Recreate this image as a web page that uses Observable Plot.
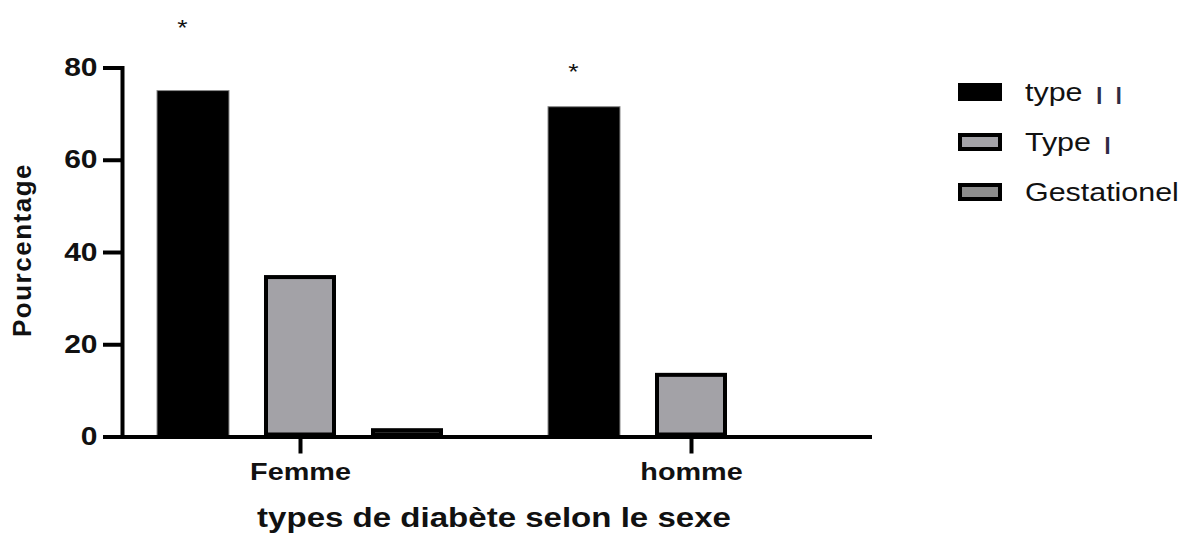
<!DOCTYPE html>
<html>
<head>
<meta charset="utf-8">
<script src="https://cdn.jsdelivr.net/npm/d3@7"></script>
<script src="https://cdn.jsdelivr.net/npm/@observablehq/plot@0.6"></script>
<style>
  html, body { margin: 0; padding: 0; background: #fff; }
  #wrap { position: relative; width: 1188px; height: 536px; overflow: hidden; font-family: "Liberation Sans", Arial, sans-serif; color: #111; }
  #chart { position: absolute; left: 0; top: 0; }
  .ytitle { position: absolute; left: 22px; top: 250px; font-size: 26px; font-weight: bold; letter-spacing: 1.5px; line-height: 26px; white-space: nowrap; transform: translate(-50%, -50%) rotate(-90deg); }
  .xtitle { position: absolute; left: 494px; top: 504px; font-size: 28px; font-weight: bold; line-height: 28px; white-space: nowrap; transform: translateX(-50%) scaleX(1.18); }
  .legend { position: absolute; left: 958px; top: 0; }
  .item { position: absolute; left: 0; display: flex; align-items: center; height: 18px; }
  .sw { width: 44px; height: 18px; box-sizing: border-box; border: 4px solid #000; flex: none; }
  .lab { margin-left: 23px; font-size: 26px; white-space: nowrap; transform: scaleX(1.17); transform-origin: left center; line-height: 26px; }
  .roman { display: inline-block; font-size: 23px; font-weight: bold; color: #2e2a44; margin-left: 12px; letter-spacing: 4px; position: relative; top: 3px; transform: scaleX(0.8); transform-origin: left center; }
</style>
</head>
<body>
<div id="wrap">
  <div id="chart"></div>
  <div class="ytitle">Pourcentage</div>
  <div class="xtitle">types de diabète selon le sexe</div>
  <div class="legend" id="legend"></div>
</div>
<script>
// ---- data ----
const sexes = ["Femme", "homme"];
const types = ["type II", "Type I", "Gestationel"];
const femmeValues = [75, 35, 1.8];
const hommeValues = [71.5, 13.8, 0];
const yTicks = [0, 20, 40, 60, 80];
const starSexes = ["Femme", "homme"];
const starHeights = [90, 80.5];
const starLabel = "*";
const legendLabels = ["type", "Type", "Gestationel"];
const legendRoman = ["II", "I", ""];
const fills = ["#000000", "#a3a2a7", "#8d8d8d"];

// ---- table ----
const rows = [];
sexes.forEach((s, i) => {
  const vals = i === 0 ? femmeValues : hommeValues;
  types.forEach((t, j) => rows.push({sex: s, type: t, value: vals[j]}));
});
const stars = starSexes.map((s, i) => ({sex: s, type: types[0], y: starHeights[i], label: starLabel}));
const baseFemme = [{sex: sexes[0], v: 0}];
const baseHomme = [{sex: sexes[1], v: 0}];

const font = "Liberation Sans, Arial, sans-serif";

const plot = Plot.plot({
  width: 1188,
  height: 536,
  marginTop: 67.5,
  marginBottom: 99.5,
  marginLeft: 122,
  marginRight: 318.7,
  style: {fontFamily: font, color: "#111", background: "transparent", overflow: "visible"},
  fx: {domain: sexes, paddingInner: 0.09, paddingOuter: 0, label: null},
  x: {domain: types, padding: 0.327, axis: null},
  y: {domain: [0, 80], label: null},
  color: {domain: types, range: fills},
  marks: [
    Plot.barY(rows.filter(d => d.type === types[0]), {fx: "sex", x: "type", y: "value", fill: "type", stroke: "#8a8a8a", strokeWidth: 1}),
    Plot.barY(rows.filter(d => d.type !== types[0]), {fx: "sex", x: "type", y: "value", fill: "type", stroke: "#000", strokeWidth: 4, inset: 2}),
    Plot.ruleY(baseFemme, {fx: "sex", y: "v", stroke: "#000", strokeWidth: 4, insetLeft: -19, insetRight: -37}),
    Plot.ruleY(baseHomme, {fx: "sex", y: "v", stroke: "#000", strokeWidth: 4, insetLeft: -2, insetRight: -3}),
    Plot.frame({anchor: "left", facetAnchor: "left", stroke: "#000", strokeWidth: 4, strokeLinecap: "square"}),
    Plot.axisY({ticks: yTicks, tickSize: 19, tickPadding: 6, stroke: "#000", strokeWidth: 4, fontSize: 25, fontWeight: "bold", label: null}),
    Plot.axisFx({anchor: "bottom", tickSize: 17, tickPadding: 9, stroke: "#000", strokeWidth: 4, fontSize: 24, fontWeight: "bold", label: null}),
    Plot.text(stars, {fx: "sex", x: "type", y: "y", text: "label", fontSize: 22, dx: -11, dy: 6, fill: "#111"})
  ]
});

// stretch text horizontally like the reference
d3.select(plot).selectAll("text").each(function() {
  const T = this.getAttribute("transform") || "";
  const x = +this.getAttribute("x") || 0, y = +this.getAttribute("y") || 0;
  this.setAttribute("transform", `${T} translate(${x},${y}) scale(1.2,1) translate(${-x},${-y})`);
});

document.getElementById("chart").appendChild(plot);

// legend
const legend = document.getElementById("legend");
const tops = [83, 133, 183];
types.forEach((t, i) => {
  const item = document.createElement("div");
  item.className = "item";
  item.style.top = tops[i] + "px";
  const sw = document.createElement("div");
  sw.className = "sw";
  sw.style.background = fills[i];
  item.appendChild(sw);
  const lab = document.createElement("div");
  lab.className = "lab";
  lab.textContent = legendLabels[i];
  if (legendRoman[i]) {
    const r = document.createElement("span");
    r.className = "roman";
    r.textContent = legendRoman[i].split("").join(" ");
    lab.appendChild(r);
  }
  item.appendChild(lab);
  legend.appendChild(item);
});
</script>
</body>
</html>
